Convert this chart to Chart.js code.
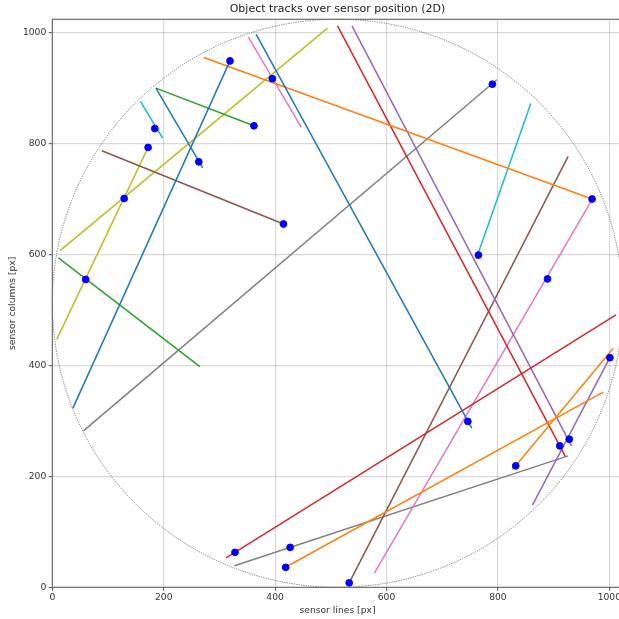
<!DOCTYPE html>
<html>
<head>
<meta charset="utf-8">
<script src="https://cdn.jsdelivr.net/npm/chart.js@4.4.1/dist/chart.umd.min.js"></script>
<style>
  html, body { margin: 0; padding: 0; overflow: hidden; background: #fff; }
  #wrap { width: 640px; height: 619px; }
</style>
</head>
<body>
<div id="wrap"><canvas id="myChart" width="640" height="619"></canvas></div>
<script>
// track segments: start / end in sensor px
const trackX0 = [37, 186, 366, 272, 413, 826, 186, 11, 512, 312, 538, 862, 89, 533, 352, 578, 56, 327, 8, 14, 158, 761]
const trackY0 = [323, 900, 997, 955, 33, 212, 900, 594, 1012, 53, 1012, 148, 787, 8, 992, 25, 282, 39, 447, 607, 876, 592]
const trackX1 = [319, 270, 753, 969, 989, 1007, 362, 265, 921, 1012, 932, 1001, 415, 926, 447, 969, 798, 926, 172, 494, 198, 859]
const trackY1 = [949, 756, 287, 700, 352, 431, 832, 398, 236, 491, 255, 414, 655, 777, 829, 699, 915, 237, 793, 1008, 810, 872]
const trackColors = [
  "#1f77b4", "#1f77b4", "#1f77b4",
  "#ff7f0e", "#ff7f0e", "#ff7f0e",
  "#2ca02c", "#2ca02c",
  "#d62728", "#d62728",
  "#9467bd", "#9467bd",
  "#8c564b", "#8c564b",
  "#e377c2", "#e377c2",
  "#7f7f7f", "#7f7f7f",
  "#bcbd22", "#bcbd22",
  "#17becf", "#17becf",
]

// current object positions
const dotX = [319, 263, 362, 184, 172, 129, 60, 415, 395, 790, 969, 765, 889, 1001, 746, 911, 928, 832, 328, 427, 419, 533]
const dotY = [949, 767, 832, 827, 793, 701, 555, 655, 917, 907, 700, 599, 556, 414, 299, 255, 267, 219, 63, 72, 36, 8]

const xTicks = [0, 200, 400, 600, 800, 1000]
const yTicks = [0, 200, 400, 600, 800, 1000]
const sensorSize = 1024
const titleText = "Object tracks over sensor position (2D)"

const ctx = document.querySelector("#myChart")

const datasets = [
  {
    label: "positions",
    data: dotX.map((x, i) => ({ x: x, y: dotY[i] })),
    backgroundColor: "#0000ff",
    borderColor: "#0000ff",
    pointRadius: 3.4,
    showLine: false,
    order: 0,
  },
]
trackX0.forEach((x0, i) => {
  datasets.push({
    label: "track " + i,
    data: [
      { x: x0, y: trackY0[i] },
      { x: trackX1[i], y: trackY1[i] },
    ],
    borderColor: trackColors[i],
    backgroundColor: trackColors[i],
    borderWidth: 1.5,
    pointRadius: 0,
    showLine: true,
    order: 1,
  })
})

const sensorCircle = {
  id: "sensorCircle",
  beforeDatasetsDraw(chart) {
    const x = chart.scales.x
    const y = chart.scales.y
    const cx = x.getPixelForValue(sensorSize / 2)
    const cy = y.getPixelForValue(sensorSize / 2)
    const rx = x.getPixelForValue(sensorSize) - cx
    const ry = cy - y.getPixelForValue(sensorSize)
    const c = chart.ctx
    c.save()
    c.strokeStyle = "#666"
    c.lineWidth = 0.9
    c.setLineDash([1.2, 1.2])
    c.beginPath()
    c.ellipse(cx, cy, rx, ry, 0, 0, Math.PI * 2)
    c.stroke()
    c.restore()
  },
  afterDraw(chart) {
    const a = chart.chartArea
    const c = chart.ctx
    c.save()
    c.strokeStyle = "#6f6f6f"
    c.lineWidth = 1.2
    c.strokeRect(a.left, a.top, a.right - a.left, a.bottom - a.top)
    // title centred over the plot area
    c.fillStyle = "#222"
    c.font = "11px 'DejaVu Sans'"
    c.textAlign = "center"
    c.textBaseline = "middle"
    c.fillText(titleText, (a.left + a.right) / 2, 9.5)
    c.restore()
  },
}

new Chart(ctx, {
  type: "scatter",
  data: { datasets: datasets },
  plugins: [sensorCircle],
  options: {
    responsive: false,
    animation: false,
    layout: { padding: { left: 0, right: 17.3, top: 19.3, bottom: 0 } },
    plugins: {
      legend: { display: false },
      tooltip: { enabled: false },
      title: { display: false },
    },
    scales: {
      x: {
        type: "linear",
        min: 0,
        max: sensorSize,
        afterBuildTicks: (scale) => {
          scale.ticks = xTicks.map((v) => ({ value: v }))
        },
        afterFit: (scale) => {
          scale.height = 31.7
        },
        grid: {
          color: "rgba(0,0,0,0.15)",
          lineWidth: 1.2,
          tickLength: 3.5,
          tickColor: "#666",
        },
        border: { display: false },
        ticks: {
          color: "#333",
          padding: 1,
          maxRotation: 0,
          font: { family: "DejaVu Sans", size: 9.2 },
          callback: (v) => String(v),
        },
        title: {
          display: true,
          text: "sensor lines [px]",
          color: "#333",
          font: { family: "DejaVu Sans", size: 9.2 },
          padding: { top: 0, bottom: 2.8 },
        },
      },
      y: {
        type: "linear",
        min: 0,
        max: sensorSize,
        afterBuildTicks: (scale) => {
          scale.ticks = yTicks.map((v) => ({ value: v }))
        },
        afterFit: (scale) => {
          scale.width = 52.3
        },
        grid: {
          color: "rgba(0,0,0,0.15)",
          lineWidth: 1.2,
          tickLength: 3.5,
          tickColor: "#666",
        },
        border: { display: false },
        ticks: {
          color: "#333",
          padding: 2.5,
          font: { family: "DejaVu Sans", size: 9.2 },
          callback: (v) => String(v),
        },
        title: {
          display: true,
          text: "sensor columns [px]",
          color: "#333",
          font: { family: "DejaVu Sans", size: 9.2 },
          padding: { top: 7.5, bottom: 0 },
        },
      },
    },
  },
})
</script>
</body>
</html>
